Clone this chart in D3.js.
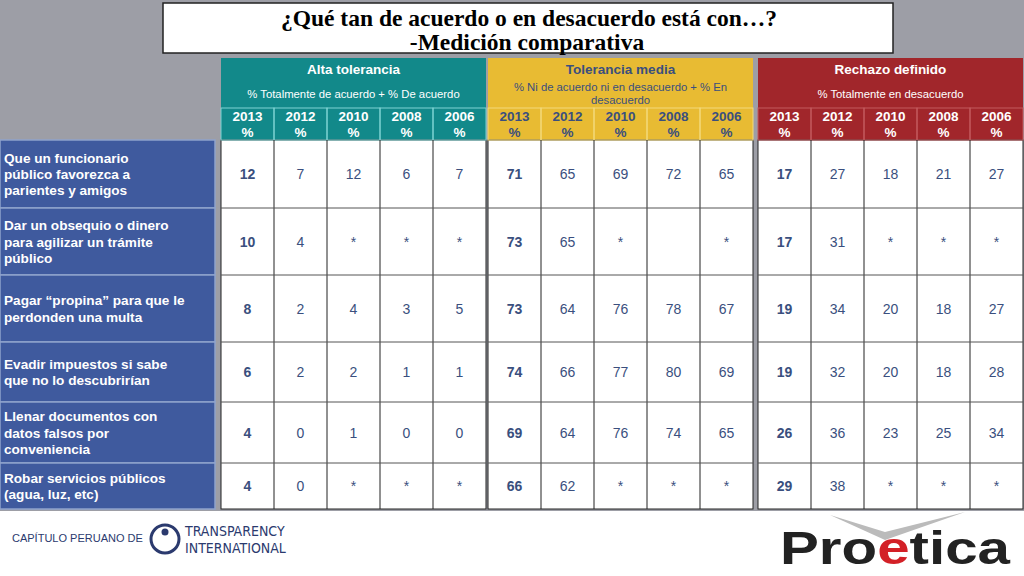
<!DOCTYPE html><html><head><meta charset="utf-8"><script src="https://cdn.jsdelivr.net/npm/d3@7"></script>
<style>body{margin:0;background:#fff}svg{display:block}</style></head><body><svg id="c" width="1024" height="576"></svg>
<script>
const rowLabels=[["Que un funcionario","público favorezca a","parientes y amigos"],["Dar un obsequio o dinero","para agilizar un trámite","público"],["Pagar “propina” para que le","perdonden una multa"],["Evadir impuestos si sabe","que no lo descubrirían"],["Llenar documentos con","datos falsos por","conveniencia"],["Robar servicios públicos","(agua, luz, etc)"]];
const years=["2013","2012","2010","2008","2006"];
const groups=["Alta tolerancia","Tolerancia media","Rechazo definido"];
const subtitles=[["% Totalmente de acuerdo + % De acuerdo"],["% Ni de acuerdo ni en desacuerdo + % En","desacuerdo"],["% Totalmente en desacuerdo"]];
const alta=[["12","7","12","6","7"],["10","4","*","*","*"],["8","2","4","3","5"],["6","2","2","1","1"],["4","0","1","0","0"],["4","0","*","*","*"]];
const media=[["71","65","69","72","65"],["73","65","*","","*"],["73","64","76","78","67"],["74","66","77","80","69"],["69","64","76","74","65"],["66","62","*","*","*"]];
const rechazo=[["17","27","18","21","27"],["17","31","*","*","*"],["19","34","20","18","27"],["19","32","20","18","28"],["26","36","23","25","34"],["29","38","*","*","*"]];
const groupData=[alta,media,rechazo];
const svg=d3.select("#c");
svg.append("rect").attr("width",1024).attr("height",511).attr("fill","#9d9ea6");
svg.append("rect").attr("x",163).attr("y",3).attr("width",730).attr("height",50).attr("fill","#fff").attr("stroke","#222").attr("stroke-width",1.5);
const tf="'Liberation Serif',serif";
svg.append("text").attr("x",529).attr("y",26).attr("text-anchor","middle").attr("font-family",tf).attr("font-weight","bold").attr("font-size",23.5).text("¿Qué tan de acuerdo o en desacuerdo está con…?");
svg.append("text").attr("x",527).attr("y",50).attr("text-anchor","middle").attr("font-family",tf).attr("font-weight","bold").attr("font-size",23.5).text("-Medición comparativa");
const rowEdges=[140,208,275,342,402,463,509];
const gx=[221,488,758],gw=265;
const fills=["#12898a","#e8bb33","#a1262b"],titleCol=["#fff","#3a4f7e","#fff"],subCol=["#fff","#3a4f7e","#fff"],yearCol=["#fff","#3a4f7e","#fff"];
const ff="'Liberation Sans',Arial,sans-serif";
rowLabels.forEach((l,i)=>{
 const y0=rowEdges[i],h=rowEdges[i+1]-y0;
 svg.append("rect").attr("x",0).attr("y",y0).attr("width",215).attr("height",h).attr("fill","#3f5a9e").attr("stroke","#8fa3cc").attr("stroke-width",1.5);
 const cy=y0+h/2-(l.length-1)*8.2;
 l.forEach((t,j)=>svg.append("text").attr("x",4).attr("y",cy+j*16.4+5).attr("fill","#fff").attr("font-family",ff).attr("font-weight","bold").attr("font-size",13.6).text(t));
});
groups.forEach((g,gi)=>{
 const x=d3.scaleBand().domain(years).range([gx[gi],gx[gi]+gw]);
 svg.append("rect").attr("x",gx[gi]).attr("y",58).attr("width",gw).attr("height",82).attr("fill",fills[gi]);
 svg.append("text").attr("x",gx[gi]+gw/2).attr("y",74).attr("text-anchor","middle").attr("fill",titleCol[gi]).attr("font-family",ff).attr("font-weight","bold").attr("font-size",13.5).text(g);
 const s=subtitles[gi];
 s.forEach((t,j)=>svg.append("text").attr("x",gx[gi]+gw/2).attr("y",(s.length>1?91:98)+j*13).attr("text-anchor","middle").attr("fill",subCol[gi]).attr("font-family",ff).attr("font-size",11.3).text(t));
 svg.append("rect").attr("x",gx[gi]).attr("y",rowEdges[0]).attr("width",gw).attr("height",rowEdges[6]-rowEdges[0]).attr("fill","#fff").attr("stroke","#222");
 years.forEach((yr,k)=>{
  const cx=x(yr)+x.bandwidth()/2;
  svg.append("rect").attr("x",x(yr)).attr("y",108).attr("width",x.bandwidth()).attr("height",32).attr("fill","none").attr("stroke",gi==0?"#7fd3d3":gi==1?"#f3da7c":"#c45a5e").attr("stroke-width",1);
  svg.append("text").attr("x",cx).attr("y",121).attr("text-anchor","middle").attr("fill",yearCol[gi]).attr("font-family",ff).attr("font-weight","bold").attr("font-size",13.5).text(yr);
  svg.append("text").attr("x",cx).attr("y",137).attr("text-anchor","middle").attr("fill",yearCol[gi]).attr("font-family",ff).attr("font-weight","bold").attr("font-size",13.5).text("%");
  if(k>0) svg.append("line").attr("x1",x(yr)).attr("x2",x(yr)).attr("y1",140).attr("y2",509).attr("stroke","#222");
  groupData[gi].forEach((row,ri)=>{
   const cy=(rowEdges[ri]+rowEdges[ri+1])/2;
   svg.append("text").attr("x",cx).attr("y",cy+5).attr("text-anchor","middle").attr("fill","#3a4f7e").attr("font-family",ff).attr("font-weight",k==0?"bold":"normal").attr("font-size",14).text(row[k]);
  });
 });
 rowEdges.slice(1,6).forEach(y=>svg.append("line").attr("x1",gx[gi]).attr("x2",gx[gi]+gw).attr("y1",y).attr("y2",y).attr("stroke","#555"));
});
svg.append("text").attr("x",12).attr("y",542).attr("font-family",ff).attr("font-size",11).attr("fill","#2b3a6e").text("CAPÍTULO PERUANO DE");
svg.append("circle").attr("cx",165).attr("cy",539).attr("r",14).attr("fill","none").attr("stroke","#2b3a6e").attr("stroke-width",3);
svg.append("circle").attr("cx",165).attr("cy",532).attr("r",3.5).attr("fill","#2b3a6e");
svg.append("text").attr("x",185).attr("y",536).attr("font-family","'DejaVu Sans Condensed',sans-serif").attr("font-size",14).attr("fill","#2b3a6e").text("TRANSPARENCY");
svg.append("text").attr("x",185).attr("y",553).attr("font-family","'DejaVu Sans Condensed',sans-serif").attr("font-size",14).attr("fill","#2b3a6e").text("INTERNATIONAL");
svg.append("path").attr("d","M830 515 L885 540 L965 512 L885 532 Z").attr("fill","#bbb");
const p=svg.append("text").attr("x",780).attr("y",564).attr("textLength",230).attr("lengthAdjust","spacingAndGlyphs").attr("font-family",ff).attr("font-weight","bold").attr("font-size",46).attr("fill","#222");
p.append("tspan").text("Pro");p.append("tspan").attr("fill","#d32027").text("e");p.append("tspan").text("tica");
</script></body></html>
